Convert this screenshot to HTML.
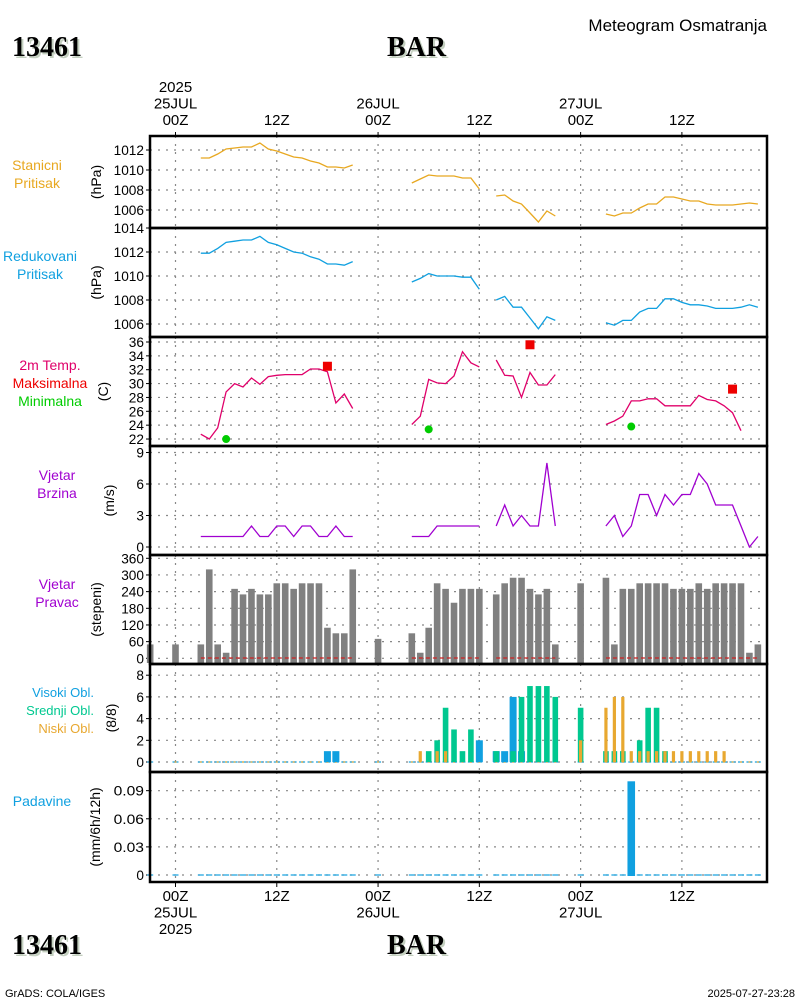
<!DOCTYPE html>
<html><head><meta charset="utf-8"><style>
body{margin:0;background:#fff;}
svg{display:block;font-family:"Liberation Sans",sans-serif;}
</style></head><body>
<svg id="chart" width="800" height="1000" viewBox="0 0 800 1000"></svg>
<script>
// ---- data ----
const segStart = [3, 28, 38, 51];
const stnP1 = [1011.2,1011.2,1011.6,1012.1,1012.2,1012.3,1012.3,1012.7,1012.1,1011.9,1011.6,1011.3,1011.2,1010.9,1010.7,1010.3,1010.3,1010.2,1010.5];
const stnP2 = [1008.7,1009.1,1009.5,1009.4,1009.4,1009.4,1009.2,1009.2,1008.1];
const stnP3 = [1007.4,1007.5,1006.9,1006.6,1005.7,1004.8,1005.9,1005.4];
const stnP4 = [1005.6,1005.4,1005.7,1005.7,1006.2,1006.6,1006.6,1007.3,1007.3,1007.1,1006.9,1006.9,1006.6,1006.5,1006.5,1006.5,1006.6,1006.7,1006.6];
const redP1 = [1011.9,1011.9,1012.3,1012.8,1012.9,1013.0,1013.0,1013.3,1012.8,1012.6,1012.3,1012.0,1011.9,1011.6,1011.4,1011.0,1011.0,1010.9,1011.2];
const redP2 = [1009.5,1009.8,1010.2,1010.0,1010.0,1010.0,1009.9,1009.9,1008.9];
const redP3 = [1008.0,1008.3,1007.4,1007.4,1006.5,1005.6,1006.6,1006.3];
const redP4 = [1006.1,1005.9,1006.3,1006.3,1007.0,1007.3,1007.3,1008.1,1008.1,1007.8,1007.6,1007.6,1007.5,1007.3,1007.3,1007.3,1007.4,1007.6,1007.4];
const temp1 = [22.7,22.0,23.6,28.8,30.0,29.5,30.8,29.9,31.0,31.2,31.3,31.3,31.3,32.1,32.1,31.7,27.2,28.5,26.4];
const temp2 = [24.1,25.3,30.6,30.1,30.0,31.1,34.6,33.0,32.4];
const temp3 = [33.4,31.2,31.1,28.0,31.6,29.8,29.8,31.3];
const temp4 = [24.1,24.6,25.3,27.5,27.5,27.8,27.8,26.8,26.8,26.8,26.8,28.3,27.7,27.5,26.8,25.8,23.2];
const tmaxHours = [18, 42, 66];
const tmaxVals = [32.5, 35.6, 29.2];
const tminHours = [6, 30, 54];
const tminVals = [22.0, 23.4, 23.8];
const wspd1 = [1,1,1,1,1,1,2,1,1,2,2,1,2,2,1,1,2,1,1];
const wspd2 = [1,1,1,2,2,2,2,2,2];
const wspd3 = [2,4,2,3,2,2,8,2];
const wspd4 = [2,3,1,2,5,5,3,5,4,5,5,7,6,4,4,4,2,0,1];
const wdirHours = [-3,0,3,4,5,6,7,8,9,10,11,12,13,14,15,16,17,18,19,20,21,24,28,29,30,31,32,33,34,35,36,38,39,40,41,42,43,44,45,48,51,52,53,54,55,56,57,58,59,60,61,62,63,64,65,66,67,68,69];
const wdirVals = [50,50,50,320,50,20,250,230,250,230,230,270,270,250,270,270,270,110,90,90,320,70,90,20,110,270,250,200,250,250,250,230,270,290,290,250,230,250,50,270,290,50,250,250,270,270,270,270,250,250,250,270,250,270,270,270,270,20,50];
const cloudHours = [18,19,29,30,31,32,33,34,35,36,38,39,40,41,42,43,44,45,48,51,52,53,54,55,56,57,58,59,60,61,62,63,64,65];
const cloudHigh = [1,1,0,0,0,0,0,0,0,2,1,1,6,1,0,0,0,0,0,0,0,0,0,0,0,0,0,0,0,0,0,0,0,0];
const cloudMid  = [0,0,0,1,2,5,3,1,3,0,1,0,1,6,7,7,7,6,5,1,1,1,0,2,5,5,1,0,0,0,0,0,0,0];
const cloudLow  = [0,0,1,0,1,1,0,0,0,0,0,0,0,0,0,0,0,0,2,5,6,6,1,1,1,1,1,1,1,1,1,1,1,1];
const precipHours = [54];
const precipVals = [0.1];
const obsHours = [-3,0,3,4,5,6,7,8,9,10,11,12,13,14,15,16,17,18,19,20,21,24,28,29,30,31,32,33,34,35,36,38,39,40,41,42,43,44,45,48,51,52,53,54,55,56,57,58,59,60,61,62,63,64,65,66,67,68,69];
const timeTicks = [0,12,24,36,48,60];
const timeLabelsTop = [["2025","25JUL","00Z"],["","","12Z"],["","26JUL","00Z"],["","","12Z"],["","27JUL","00Z"],["","","12Z"]];
const timeLabelsBot = [["00Z","25JUL","2025"],["12Z","",""],["00Z","26JUL",""],["12Z","",""],["00Z","27JUL",""],["12Z","",""]];

// ---- scales ----
const X0 = 150, X1 = 767;
const xh = h => 175.5 + h * 8.44;
const panels = [
 {top:136,bot:228,y:v=>150+(1012-v)*10,ticks:[1006,1008,1010,1012],fmt:v=>v,unit:"(hPa)",ux:101,name:"station-pressure"},
 {top:228,bot:337,y:v=>252+(1012-v)*12,ticks:[1006,1008,1010,1012,1014],fmt:v=>v,unit:"(hPa)",ux:101,name:"reduced-pressure"},
 {top:337,bot:446,y:v=>342+(36-v)*6.93,ticks:[22,24,26,28,30,32,34,36],fmt:v=>v,unit:"(C)",ux:108,name:"temperature"},
 {top:446,bot:555,y:v=>547-v*10.5,ticks:[0,3,6,9],fmt:v=>v,unit:"(m/s)",ux:114,name:"wind-speed"},
 {top:555,bot:664,y:v=>658.3-v*0.2778,ticks:[0,60,120,180,240,300,360],fmt:v=>v,unit:"(stepeni)",ux:101,name:"wind-direction"},
 {top:664,bot:772,y:v=>762-v*10.85,ticks:[0,2,4,6,8],fmt:v=>v,unit:"(8/8)",ux:116,name:"cloud-cover"},
 {top:772,bot:882,y:v=>875-v*937,ticks:[0,0.03,0.06,0.09],fmt:v=>v===0?"0":v.toFixed(2),unit:"(mm/6h/12h)",ux:100,name:"precipitation"}
];
const svg = document.getElementById('chart');
const NS = 'http://www.w3.org/2000/svg';
function mk(tag, attrs, parent){
  const e = document.createElementNS(NS, tag);
  for (const k in attrs) e.setAttribute(k, attrs[k]);
  (parent||svg).appendChild(e);
  return e;
}
function txt(x,y,s,opt,parent){
  const t = mk('text',Object.assign({x:x,y:y},opt||{}),parent);
  t.textContent = s;
  return t;
}

function title(x,y,s,name){
  const g = mk('g',{});
  
  
  txt(x+2,y+2,s,{'font-family':'"Liberation Serif",serif','font-weight':'bold','font-size':'28',fill:'#c4d0c0'},g);
  txt(x,y,s,{'font-family':'"Liberation Serif",serif','font-weight':'bold','font-size':'28',fill:'#000'},g);
}
title(12,56,"13461","station-id-top");
title(387,56,"BAR","station-name-top");
title(12,954,"13461","station-id-bottom");
title(387,954,"BAR","station-name-bottom");
let t = txt(767,31,"Meteogram Osmatranja",{'font-size':'17','text-anchor':'end',fill:'#000'});


t = txt(5,997,"GrADS: COLA/IGES",{'font-size':'11',fill:'#000'});


t = txt(795,997,"2025-07-27-23:28",{'font-size':'11','text-anchor':'end',fill:'#000'});



const leftLabels = [
 [["Stanicni","#e8a820"],["Pritisak","#e8a820"],170,37],
 [["Redukovani","#10a0e0"],["Pritisak","#10a0e0"],261,40],
 [["2m Temp.","#e0006a"],["Maksimalna","#ee0000"],["Minimalna","#00cc00"],370,50],
 [["Vjetar","#a000d0"],["Brzina","#a000d0"],480,57],
 [["Vjetar","#a000d0"],["Pravac","#a000d0"],589,57],
 [["Visoki Obl.","#10a0e0"],["Srednji Obl.","#00c890"],["Niski Obl.","#e8a830"],697,94],
 [["Padavine","#10a0e0"],806,42]
];
leftLabels.forEach((L,i)=>{
  const cx = L[L.length-1];
  const y0 = L[L.length-2];
  const g = mk('g',{});
  
  
  for (let j=0;j<L.length-2;j++){
    const right = i===5;
    txt(cx, y0+j*18, L[j][0], {'font-size':right?'13':'14','text-anchor':right?'end':'middle',fill:L[j][1]}, g);
  }
});

panels.forEach((p,i)=>{
  const g = mk('g',{});
  
  
  p.g = g;
  p.ticks.forEach(v=>{
    const y = p.y(v);
    if (y>p.top+2 && y<p.bot-1) mk('line',{x1:X0,x2:X1,y1:y,y2:y,stroke:'#888','stroke-width':1.2,'stroke-dasharray':'2,6'},g);
    const lt = txt(144,y+5,String(p.fmt(v)),{'font-size':'14','text-anchor':'end',fill:'#000','textLength':String(p.fmt(v)).length*7.6,'lengthAdjust':'spacingAndGlyphs'},g);
    
    
    mk('line',{x1:X0-4,x2:X0,y1:y,y2:y,stroke:'#000'},g);
  });
  timeTicks.forEach(h=>{
    mk('line',{x1:xh(h),x2:xh(h),y1:p.top,y2:p.bot,stroke:'#888','stroke-width':1.2,'stroke-dasharray':'2,6'},g);
  });
  const cy = (p.top+p.bot)/2;
  const u = txt(0,0,p.unit,{'font-size':'14','text-anchor':'middle',fill:'#000',transform:`translate(${p.ux},${cy}) rotate(-90)`},g);
  
  
});

function line(panel, arrs, color, name){
  arrs.forEach((arr,k)=>{
    const pts = arr.map((v,j)=>xh(segStart[k]+j).toFixed(1)+','+panel.y(v).toFixed(1)).join(' ');
    const pl = mk('polyline',{points:pts,fill:'none',stroke:color,'stroke-width':1.3},panel.g);
    
    
  });
}
line(panels[0],[stnP1,stnP2,stnP3,stnP4],'#e8a820','station-pressure-line');
line(panels[1],[redP1,redP2,redP3,redP4],'#10a0e0','reduced-pressure-line');
line(panels[2],[temp1,temp2,temp3,temp4],'#e0006a','temperature-line');
line(panels[3],[wspd1,wspd2,wspd3,wspd4],'#a000d0','wind-speed-line');

tmaxHours.forEach((h,i)=>{
  const r = mk('rect',{x:xh(h)-4.5,y:panels[2].y(tmaxVals[i])-4.5,width:9,height:9,fill:'#ee0000'},panels[2].g);
  
  
});
tminHours.forEach((h,i)=>{
  const c = mk('circle',{cx:xh(h),cy:panels[2].y(tminVals[i]),r:4,fill:'#00cc00'},panels[2].g);
  
  
});

const pw = panels[4];
wdirHours.forEach((h,i)=>{
  const y = pw.y(wdirVals[i]);
  const r = mk('rect',{x:xh(h)-3.3,y:y,width:6.6,height:663-y,fill:'#808080'},pw.g);
  
  
});
[[3,21],[28,36],[38,45],[51,69]].forEach(s=>{
  const l = mk('line',{x1:xh(s[0]),x2:xh(s[1]),y1:658,y2:658,stroke:'#d02020','stroke-width':1.3,'stroke-dasharray':'4,3'},pw.g);
  
  
});

const pc = panels[5];
obsHours.forEach(h=>{
  mk('line',{x1:xh(h)-3,x2:xh(h)+3,y1:pc.y(0),y2:pc.y(0),stroke:'#10a0e0','stroke-width':1.2},pc.g);
  mk('line',{x1:xh(h)-1,x2:xh(h)+1,y1:pc.y(0),y2:pc.y(0),stroke:'#e8a830','stroke-width':1.2},pc.g);
});
cloudHours.forEach((h,i)=>{
  const y0 = pc.y(0);
  if (cloudHigh[i]>0){
    const r = mk('rect',{x:xh(h)-3.5,y:pc.y(cloudHigh[i]),width:7,height:y0-pc.y(cloudHigh[i]),fill:'#10a0e0'},pc.g);
    
    
  }
  if (cloudMid[i]>0){
    const r = mk('rect',{x:xh(h)-2.8,y:pc.y(cloudMid[i]),width:5.6,height:y0-pc.y(cloudMid[i]),fill:'#00c890'},pc.g);
    
    
  }
  if (cloudLow[i]>0){
    const r = mk('rect',{x:xh(h)-1.6,y:pc.y(cloudLow[i]),width:3.2,height:y0-pc.y(cloudLow[i]),fill:'#e8a830'},pc.g);
    
    
  }
});

const pp = panels[6];
obsHours.forEach(h=>{
  mk('line',{x1:xh(h)-3,x2:xh(h)+3,y1:pp.y(0),y2:pp.y(0),stroke:'#10a0e0','stroke-width':1.2},pp.g);
});
precipHours.forEach((h,i)=>{
  const y = pp.y(precipVals[i]);
  const r = mk('rect',{x:xh(h)-3.8,y:y,width:7.6,height:pp.y(0)-y+1,fill:'#10a0e0'},pp.g);
  
  
});

panels.forEach(p=>{
  const f = mk('rect',{x:X0,y:p.top,width:X1-X0,height:p.bot-p.top,fill:'none',stroke:'#000','stroke-width':2.5});
  
  
});

const gt = mk('g',{});


const gb = mk('g',{});


timeTicks.forEach((h,i)=>{
  const x = xh(h);
  mk('line',{x1:x,x2:x,y1:132,y2:136,stroke:'#000'},gt);
  mk('line',{x1:x,x2:x,y1:882,y2:887,stroke:'#000'},gb);
  timeLabelsTop[i].forEach((s,j)=>{ if(s) txt(x,92+j*16.5,s,{'font-size':'15','text-anchor':'middle',fill:'#000'},gt); });
  timeLabelsBot[i].forEach((s,j)=>{ if(s) txt(x,901+j*16.5,s,{'font-size':'15','text-anchor':'middle',fill:'#000'},gb); });
});
</script>
</body></html>
